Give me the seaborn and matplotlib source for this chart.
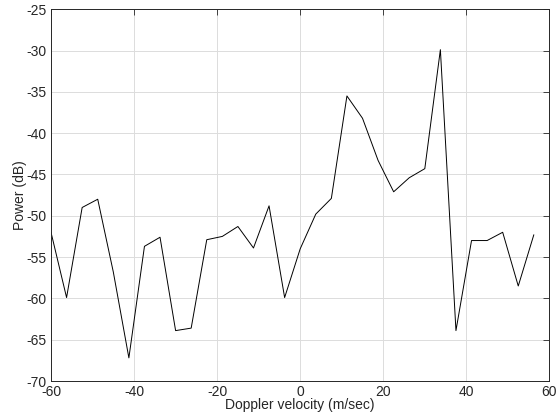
import numpy as np
import pandas as pd
import matplotlib
matplotlib.use("Agg")
import matplotlib.pyplot as plt
import seaborn as sns

# Doppler velocity bins (m/sec)
velocity = [-60.0, -56.25, -52.5, -48.75, -45.0, -41.25, -37.5, -33.75,
            -30.0, -26.25, -22.5, -18.75, -15.0, -11.25, -7.5, -3.75,
            0.0, 3.75, 7.5, 11.25, 15.0, 18.75, 22.5, 26.25,
            30.0, 33.75, 37.5, 41.25, 45.0, 48.75, 52.5, 56.25]

# Power (dB)
power = [-52.0, -59.9, -49.0, -48.0, -56.8, -67.2, -53.7, -52.6,
         -63.9, -63.6, -52.9, -52.5, -51.3, -53.9, -48.8, -59.9,
         -54.0, -49.8, -47.9, -35.5, -38.2, -43.3, -47.1, -45.4,
         -44.3, -29.9, -63.9, -53.0, -53.0, -52.0, -58.5, -52.3]

df = pd.DataFrame({"velocity": velocity, "power": power})

sns.set_style("white")
plt.rcParams["font.family"] = ["Liberation Sans", "DejaVu Sans"]
plt.rcParams["axes.unicode_minus"] = False

fig = plt.figure(figsize=(5.58, 4.18), dpi=100)
ax = fig.add_axes([0.0914, 0.0885, 0.8932, 0.8895])

sns.lineplot(data=df, x="velocity", y="power", ax=ax, color="black",
             linewidth=0.7, sort=False, estimator=None)

ax.set_xlim(-60, 60)
ax.set_ylim(-70, -25)
ax.set_xticks([-60, -40, -20, 0, 20, 40, 60])
ax.set_yticks(np.arange(-70, -24, 5))
ax.grid(True, color="#dcdcdc", linewidth=0.7)
ax.set_axisbelow(True)
ax.tick_params(direction="in", top=True, right=True, length=4, width=0.6,
               labelsize=10, colors="#262626")
ax.tick_params(axis="x", pad=3)
ax.tick_params(axis="y", pad=3)
for s in ax.spines.values():
    s.set_color("#262626")
    s.set_linewidth(0.7)

ax.set_xlabel("Doppler velocity (m/sec)", fontsize=10, labelpad=-1, color="#262626")
ax.set_ylabel("Power (dB)", fontsize=10, labelpad=0, color="#262626")

fig.savefig("out.png", dpi=100)
